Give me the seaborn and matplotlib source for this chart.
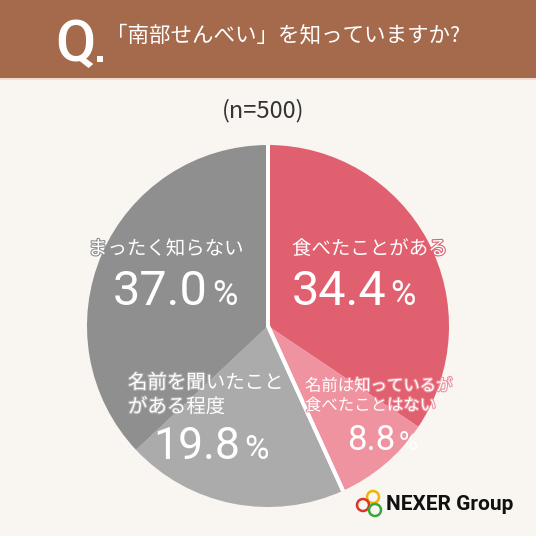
import numpy as np
import pandas as pd
import matplotlib
matplotlib.use("Agg")
import matplotlib.pyplot as plt
import matplotlib.patheffects as pe
from matplotlib.patches import Rectangle, Circle
import seaborn as sns

# ---- data ----
categories = ["食べたことがある", "名前は知っているが\n食べたことはない", "名前を聞いたこと\nがある程度", "まったく知らない"]
values = [34.4, 8.8, 19.8, 37.0]
colors = ["#e0606f", "#ef93a0", "#ababab", "#8f8f8f"]
title = "「南部せんべい」を知っていますか?"
n_label = "(n=500)"
brand = "NEXER Group"

sns.set_theme(style="white")
plt.rcParams['font.family'] = ['Noto Sans CJK JP', 'DejaVu Sans']

W = H = 536
fig = plt.figure(figsize=(5.36, 5.36), dpi=100)
fig.patch.set_facecolor("#f9f5f1")

def fx(x):
    return x / W

def fy(y):
    return 1 - y / H

# header band
fig.patches.append(Rectangle((0, fy(78)), 1, 78 / H, transform=fig.transFigure,
                             facecolor="#a5694b", edgecolor="none", zorder=0))
fig.patches.append(Rectangle((0, fy(80)), 1, 2 / H, transform=fig.transFigure,
                             facecolor="#f2dccd", edgecolor="none", zorder=0))
fig.text(fx(55), fy(61), "Q", color="white", fontsize=42, fontweight="medium",
         family=["Roboto", "DejaVu Sans"], ha="left", va="baseline")
fig.patches.append(Rectangle((fx(97), fy(62)), 6 / W, 6 / H, transform=fig.transFigure,
                             facecolor="white", edgecolor="none"))
fig.text(fx(106), fy(35), title, color="white", fontsize=15.5, ha="left", va="center")
fig.text(fx(263), fy(111), n_label, color="#333333", fontsize=17, ha="center", va="center")

# pie
cx, cy, r = 268, 326, 181
ax = fig.add_axes([fx(cx - r), fy(cy + r), 2 * r / W, 2 * r / H])
wedges, _ = ax.pie(values, colors=colors, startangle=90, counterclock=False, radius=1,
                   wedgeprops=dict(linewidth=0))
groups = [values[0] + values[1], values[2] + values[3]]
circ = Circle((0, 0), 1, transform=ax.transData)
w2, _ = ax.pie(groups, startangle=90, counterclock=False, radius=1.1,
               wedgeprops=dict(facecolor="none", edgecolor="white", linewidth=2.8))
for w in w2:
    w.set_clip_on(True)
    w.set_clip_path(circ)
ax.set_xlim(-1, 1)
ax.set_ylim(-1, 1)
ax.set_aspect("equal")
ax.axis("off")

num_font = ["Roboto", "DejaVu Sans"]

def label(x, y, txt, fc, size=14, ha="left"):
    fig.text(fx(x), fy(y), txt, color="white", fontsize=size, ha=ha, va="center",
             linespacing=1.2, fontweight="normal",
             path_effects=[pe.withStroke(linewidth=1.6, foreground=fc)])

def pct(xend, ybase, val, fc, size, psize):
    fig.text(fx(xend), fy(ybase), f"{val:.1f}", color="white", fontsize=size,
             family=num_font, fontweight="normal", ha="right", va="baseline")
    fig.text(fx(xend + 4), fy(ybase), "%", color="white", fontsize=psize,
             family=num_font, fontweight="normal", ha="left", va="baseline")

# 食べたことがある
label(292, 249, categories[0], colors[0], 14)
pct(386, 305, values[0], colors[0], 35, 25)
# 名前は知っているが
label(305, 396, categories[1], colors[1], 11.8)
pct(395, 450, values[1], colors[1], 25, 19)
# 名前を聞いたこと
label(128, 395, categories[2], colors[2], 14)
pct(240, 459, values[2], colors[2], 32, 24)
# まったく知らない
label(88, 249, categories[3], colors[3], 14)
pct(208, 305, values[3], colors[3], 35, 25)

# logo
logo = [("#f0b400", 373, 497), ("#d9352b", 363, 505), ("#3aa63a", 375, 510)]
for col, lx, ly in logo:
    fig.patches.append(Circle((fx(lx), fy(ly)), 6 / W, transform=fig.transFigure,
                              facecolor="none", edgecolor=col, linewidth=1.8))
fig.text(fx(386), fy(505), brand, color="#111111", fontsize=15, fontweight="bold",
         family=num_font, ha="left", va="center")

fig.savefig("out.png", dpi=100, facecolor=fig.get_facecolor())
